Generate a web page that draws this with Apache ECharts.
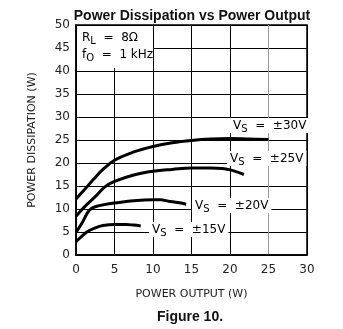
<!DOCTYPE html>
<html><head><meta charset="utf-8">
<script src="https://cdn.jsdelivr.net/npm/echarts@6/dist/echarts.min.js"></script>
<style>html,body{margin:0;padding:0;background:#fff}#c{width:343px;height:329px}</style>
</head><body><div id="c"></div>
<script>
// Data
const xTicks = [0, 5, 10, 15, 20, 25, 30];
const yTicks = [0, 5, 10, 15, 20, 25, 30, 35, 40, 45, 50];
const vs30 = [[0,12.2],[1,14.0],[2.25,16.4],[3.5,18.6],[5,20.6],[7.5,22.4],[10,23.6],[12.5,24.4],[15,24.9],[17.5,25.2],[20,25.3],[22.5,25.2],[25,25.1]];
const vs25 = [[0,8.4],[1,10.3],[2.5,12.7],[3.75,14.8],[5,16.0],[7.5,17.4],[10,18.2],[12.5,18.6],[15,18.9],[17.5,18.9],[19,18.8],[20,18.5],[21,18.0],[21.8,17.5]];
const vs20 = [[0,4.9],[0.8,7.0],[1.5,9.2],[2,10.1],[2.7,10.6],[3.5,10.9],[5,11.3],[7.5,11.8],[10,12.0],[11,12.0],[12,11.7],[13.2,11.4],[14.3,11.05]];
const vs15 = [[0,2.9],[0.7,4.0],[1.5,5.1],[2.5,5.9],[3.5,6.4],[5,6.65],[6.5,6.65],[7.5,6.5],[8.4,6.3]];
const curveLabels = ['±30V', '±25V', '±20V', '±15V'];

const chart = echarts.init(document.getElementById('c'), null, {renderer: 'canvas'});
const txt = '#222';
const font = 'DejaVu Sans';
const gridL = 76, gridT = 25, gridR = 36, gridB = 74;
const rich = {
  a: {fontFamily: font, fontSize: 12, color: txt, lineHeight: 15},
  s: {fontFamily: font, fontSize: 10, color: txt, padding: [7, 0, 0, 0], lineHeight: 15}
};
function vsLabel(x, y, v) {
  return {type: 'text', x: x, y: y, z: 10,
    style: {text: '{a|V}{s|S}{a|  =  ' + v + '}', rich: rich, backgroundColor: '#fff', padding: [0, 3, 0, 3]}};
}
const mkSeries = (d, s) => ({type: 'line', data: d, smooth: s, showSymbol: false, symbol: 'none',
  lineStyle: {color: '#000', width: 3}, z: 5});

chart.setOption({
  backgroundColor: '#fff',
  animation: false,
  title: [
    {text: 'Power Dissipation vs Power Output', left: 187, top: 4, textAlign: 'center',
     textStyle: {fontFamily: 'Liberation Sans', fontWeight: 'bold', fontSize: 14, color: '#111'}},
    {text: 'Figure 10.', left: 185, top: 305, textAlign: 'center',
     textStyle: {fontFamily: 'Liberation Sans', fontWeight: 'bold', fontSize: 14, color: '#111'}}
  ],
  grid: {left: gridL, top: gridT, right: gridR, bottom: gridB, show: true, borderColor: '#000', borderWidth: 1.5, containLabel: false},
  xAxis: {type: 'value', min: xTicks[0], max: xTicks[xTicks.length - 1], interval: 5,
    name: 'POWER OUTPUT (W)', nameLocation: 'middle', nameGap: 34,
    nameTextStyle: {fontFamily: font, fontSize: 11, color: txt},
    axisLine: {show: true, lineStyle: {color: '#000', width: 1.5}},
    axisTick: {show: false},
    axisLabel: {fontFamily: font, fontSize: 12, color: txt, margin: 9},
    splitLine: {show: true, lineStyle: {color: ['#000','#000','#000','#000','#000','#9a9a9a','#000'], width: 1}}},
  yAxis: {type: 'value', min: yTicks[0], max: yTicks[yTicks.length - 1], interval: 5,
    name: 'POWER DISSIPATION (W)', nameLocation: 'middle', nameGap: 38,
    nameTextStyle: {fontFamily: font, fontSize: 11, color: txt},
    axisLine: {show: true, lineStyle: {color: '#000', width: 1.5}},
    axisTick: {show: false},
    axisLabel: {fontFamily: font, fontSize: 12, color: txt, margin: 6},
    splitLine: {show: true, lineStyle: {color: '#000', width: 1}}},
  series: [mkSeries(vs30, 0.4), mkSeries(vs25, 0.4), mkSeries(vs20, 0.3), mkSeries(vs15, 0.35)],
  graphic: [
    {type: 'rect', shape: {x: 77, y: 26, width: 76, height: 42}, style: {fill: '#fff'}, z: 9},
    {type: 'text', x: 82, y: 30, z: 10, style: {text: '{a|R}{s|L}{a|  =  8Ω}', rich: rich}},
    {type: 'text', x: 82, y: 47, z: 10, style: {text: '{a|f}{s|O}{a|  =  1 kHz}', rich: rich}},
    vsLabel(230, 118, curveLabels[0]),
    vsLabel(227, 151, curveLabels[1]),
    vsLabel(192, 198, curveLabels[2]),
    vsLabel(149, 222, curveLabels[3])
  ]
});
</script></body></html>
